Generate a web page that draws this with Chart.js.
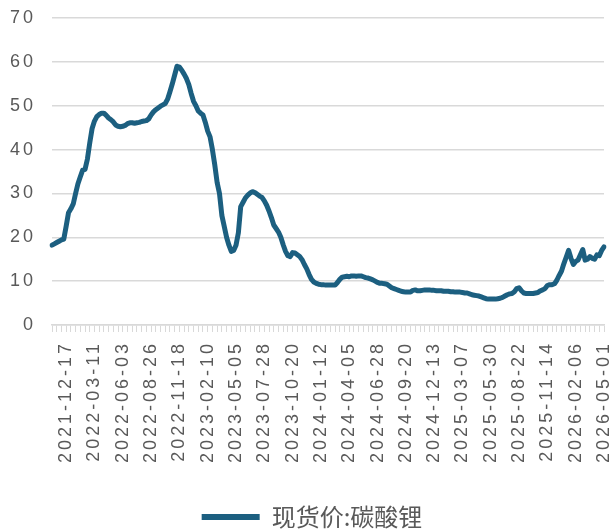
<!DOCTYPE html>
<html>
<head>
<meta charset="utf-8">
<script src="https://cdn.jsdelivr.net/npm/chart.js@4.4.1/dist/chart.umd.min.js"></script>
<style>
html,body{margin:0;padding:0;background:#fff;}
#wrap{width:611px;height:530px;}
</style>
</head>
<body>
<div id="wrap"><canvas id="c" width="611" height="530"></canvas></div>
<script>
// ---- data ----
const seriesName = '现货价:碳酸锂';
const startDate = '2021-11-05'; // first weekly observation (Friday)
const tickLabels = ['2021-12-17','2022-03-11','2022-06-03','2022-08-26','2022-11-18','2023-02-10','2023-05-05','2023-07-28','2023-10-20','2024-01-12','2024-04-05','2024-06-28','2024-09-20','2024-12-13','2025-03-07','2025-05-30','2025-08-22','2025-11-14','2026-02-06','2026-05-01'];
const yTicks = [0,10,20,30,40,50,60,70];
const prices2021_2022 = [18.2,18.5,18.8,19.1,19.4,19.6,22.5,25.6,26.5,27.6,30.0,32.2,33.8,35.3,35.5,37.8,41.5,44.8,46.5,47.5,48.0,48.3,48.3,47.8,47.2,46.8,46.3,45.6,45.3,45.2,45.3,45.5,45.9,46.1,46.1,46.0,46.1,46.2,46.4,46.5,46.6,47.0,47.9,48.6,49.1,49.5,49.9,50.2,50.5,51.5,53.2,55.0,57.0,59.0,58.8,58.1,57.2,56.2];
const prices2023 = [54.8,52.8,51.0,50.0,48.8,48.3,47.9,46.2,44.2,42.9,40.0,36.5,32.5,30.0,25.0,22.5,20.0,18.2,16.8,17.0,18.2,21.0,27.0,28.0,29.0,29.6,30.1,30.4,30.2,29.8,29.4,29.1,28.3,27.3,26.0,24.5,22.8,22.0,21.2,20.0,18.3,16.8,15.8,15.6,16.5,16.4,16.0,15.6,14.9,13.8,12.8,11.5,10.4,9.8,9.5,9.3,9.2,9.2];
const prices2024 = [9.1,9.1,9.1,9.1,9.1,9.7,10.4,10.9,11.0,11.1,11.0,11.2,11.2,11.1,11.2,11.2,11.0,10.8,10.7,10.5,10.3,10.0,9.7,9.5,9.5,9.4,9.3,8.9,8.5,8.3,8.1,7.9,7.7,7.6,7.5,7.5,7.5,7.9,8.0,7.8,7.8,7.9,8.0,8.0,8.0,7.9,7.9,7.8,7.8,7.8,7.7,7.7,7.7,7.6,7.6,7.5,7.5,7.5,7.4];
const prices2025_2026 = [7.3,7.3,7.1,6.9,6.8,6.7,6.6,6.4,6.2,6.0,5.9,5.9,5.9,5.9,6.0,6.1,6.3,6.6,6.9,7.1,7.2,7.6,8.3,8.5,7.8,7.3,7.2,7.2,7.2,7.2,7.3,7.4,7.8,8.0,8.3,9.0,9.2,9.2,9.4,10.2,11.3,12.3,14.0,15.5,17.0,15.2,13.8,14.5,14.8,16.0,17.2,14.8,15.0,15.6,15.2,15.0,16.0,15.8,17.0,17.8];
const prices = prices2021_2022.concat(prices2023, prices2024, prices2025_2026);

// weekly category dates
const categories = [];
{
  const d0 = new Date(startDate + 'T00:00:00Z');
  for (let i = 0; i < prices.length; i++) {
    const d = new Date(d0.getTime() + i * 7 * 86400000);
    categories.push(d.toISOString().slice(0, 10));
  }
}
const tickSet = new Set(tickLabels);
const lastIdx = categories.length - 1;

const LINE = '#1c5f80';
const GRID = '#d9d9d9';
const TXT = '#595959';
const LS = '3px';

const spacing = {
  id: 'spacing',
  afterInit(c){
    const lg = c.legend;
    if (lg && !lg._patched) {
      const f = lg.fit.bind(lg), d = lg.draw.bind(lg);
      lg.fit = function(){ const o = c.ctx.letterSpacing; c.ctx.letterSpacing = '0px'; f(); c.ctx.letterSpacing = o; };
      lg.draw = function(){
        const o = c.ctx.letterSpacing;
        c.ctx.save();
        c.ctx.letterSpacing = '0px';
        c.ctx.translate(10, 0);
        d();
        c.ctx.restore();
        c.ctx.letterSpacing = o;
      };
      lg._patched = true;
    }
  },
  beforeUpdate(c){ c.ctx.letterSpacing = LS; },
  beforeLayout(c){ c.ctx.letterSpacing = LS; },
  beforeDraw(c){ c.ctx.letterSpacing = LS; }
};

new Chart(document.getElementById('c'), {
  type: 'line',
  data: {
    labels: categories,
    datasets: [{
      label: seriesName,
      data: prices,
      borderColor: LINE,
      backgroundColor: LINE,
      borderWidth: 5,
      pointRadius: 0,
      tension: 0,
      borderJoinStyle: 'round',
      borderCapStyle: 'round',
      fill: false
    }]
  },
  plugins: [spacing],
  options: {
    responsive: false,
    devicePixelRatio: 1,
    animation: false,
    layout: { padding: { top: 18, right: 7, left: 0, bottom: -9 } },
    scales: {
      x: {
        type: 'category',
        offset: false,
        afterFit(s){ s.height = 174; s.paddingLeft = 0; s.paddingRight = 0; },
        grid: {
          drawOnChartArea: false,
          drawTicks: true,
          tickLength: 7,
          lineWidth: 1,
          tickColor: (ctx) => ((lastIdx - ctx.index) % 2 === 0 ? GRID : 'rgba(0,0,0,0)')
        },
        border: { display: true, color: GRID, width: 1.5 },
        ticks: {
          autoSkip: false,
          minRotation: 90,
          maxRotation: 90,
          padding: 9,
          color: TXT,
          font: { family: '"Liberation Sans", Arial, sans-serif', size: 18 },
          callback(v, i){ const l = categories[i]; return tickSet.has(l) ? l : ''; }
        }
      },
      y: {
        min: 0,
        max: 70,
        afterFit(s){ s.width = 52; s.paddingTop = 0; s.paddingBottom = 0; },
        afterBuildTicks(s){ s.ticks = yTicks.map(v => ({ value: v })); },
        grid: { color: GRID, lineWidth: 1.5, drawTicks: false },
        border: { display: false },
        ticks: {
          padding: 16,
          color: TXT,
          font: { family: '"Liberation Sans", Arial, sans-serif', size: 18 }
        }
      }
    },
    plugins: {
      legend: {
        position: 'bottom',
        labels: {
          color: TXT,
          font: { family: '"Noto Sans CJK SC", sans-serif', size: 24 },
          boxWidth: 58,
          boxHeight: 6,
          padding: 6,
          generateLabels(chart){
            return [{ text: seriesName, fillStyle: LINE, strokeStyle: LINE, lineWidth: 0, datasetIndex: 0, fontColor: TXT }];
          }
        }
      },
      tooltip: { enabled: false }
    }
  }
});
</script>
</body>
</html>
